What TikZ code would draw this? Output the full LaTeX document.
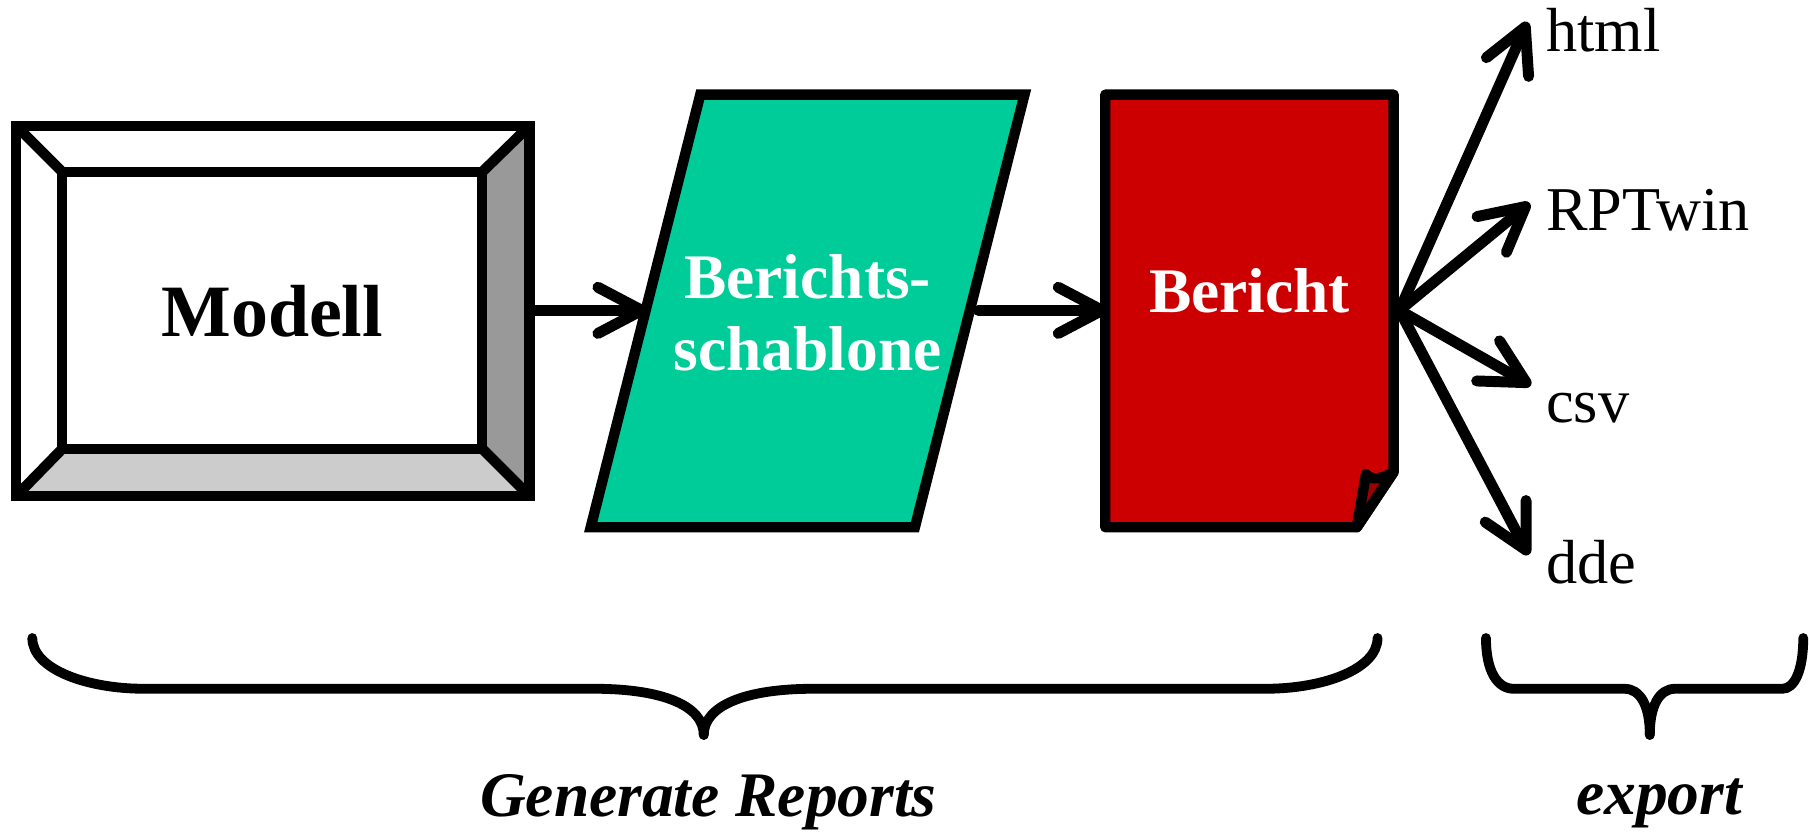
\documentclass[tikz,border=0pt]{standalone}
\usepackage{fontspec}
\setmainfont{Liberation Serif}
\usetikzlibrary{arrows.meta}
\definecolor{tmplgreen}{HTML}{00CC99}
\definecolor{reportred}{HTML}{CC0000}
\definecolor{folddark}{HTML}{990000}
\definecolor{bevdark}{HTML}{999999}
\definecolor{bevlight}{HTML}{CCCCCC}
\tikzset{
  outline/.style={line width=9pt, line join=miter},
  flow/.style={line width=9.5pt, line cap=round,
    -{Straight Barb[length=38pt,width=40pt,line cap=round,line join=round]}},
  brace/.style={line width=8.5pt, line cap=round},
  boxlabel/.style={font=\fontsize{55}{63}\selectfont\bfseries, inner sep=0pt, align=center},
  exportlabel/.style={font=\fontsize{54}{60}\selectfont, inner sep=0pt, anchor=base west},
  grouplabel/.style={font=\fontsize{55}{60}\selectfont\bfseries\itshape, inner sep=0pt, anchor=base}
}
\begin{document}
\begin{tikzpicture}[x=1pt,y=-1pt]
\useasboundingbox (0,0) rectangle (1568,723);

% Modell: bevelled frame
\fill[white] (14,109) -- (459,109) -- (418,149) -- (54,149) -- cycle;
\fill[bevdark] (459,109) -- (459,430) -- (418,389) -- (418,149) -- cycle;
\fill[bevlight] (14,430) -- (459,430) -- (418,389) -- (54,389) -- cycle;
\draw[outline] (14,109) rectangle (459,430);
\draw[outline] (54,149) rectangle (418,389);
\draw[outline] (14,109) -- (54,149) (459,109) -- (418,149)
               (14,430) -- (54,389) (459,430) -- (418,389);
\node[font=\fontsize{64}{70}\selectfont\bfseries, inner sep=0pt, anchor=base]
  (modell) at (236,292) {Modell};

% Report template: parallelogram
\draw[outline, fill=tmplgreen] (607,82) -- (888,82) -- (793,457) -- (512,457) -- cycle;
\node[boxlabel, text=white] (tmpl) at (700,271) {Berichts-\\schablone};

% Report: page with a curled corner
\draw[outline, line join=round, fill=reportred]
  (958,82) -- (1208,82) -- (1208,409) -- (1176,457) -- (958,457) -- cycle;
\draw[outline, line join=round, fill=folddark]
  (1176,457) -- (1184,411) .. controls (1189,417) and (1198,415) .. (1208,409) -- cycle;
\node[boxlabel, text=white, anchor=base] (bericht) at (1083,271) {Bericht};

% Flow between the stages
\coordinate (m-out) at (463,269);
\coordinate (t-in) at (561,269);
\coordinate (t-out) at (848,269);
\coordinate (b-in) at (960,269);
\coordinate (b-out) at (1213,269);
\draw[flow] (m-out) -- (t-in);
\draw[flow] (t-out) -- (b-in);

% Export formats
\node[exportlabel] (html) at (1340,45) {html};
\node[exportlabel] (rpt) at (1340,200) {RPTwin};
\node[exportlabel] (csv) at (1340,366) {csv};
\node[exportlabel] (dde) at (1340,506) {dde};
\coordinate (to-html) at (1324,19);
\coordinate (to-rpt) at (1326,176);
\coordinate (to-csv) at (1327,334);
\coordinate (to-dde) at (1325,481);
\draw[flow] (b-out) -- (to-html);
\draw[flow] (b-out) -- (to-rpt);
\draw[flow] (b-out) -- (to-csv);
\draw[flow] (b-out) -- (to-dde);

% Grouping braces
\coordinate (gen-tip) at (610,637);
\coordinate (exp-tip) at (1430,637);
\draw[brace] (28,553) .. controls (28,580) and (75,597) .. (125,597) -- (515,597)
  .. controls (575,597) and (610,612) .. (gen-tip);
\draw[brace] (1194,553) .. controls (1194,580) and (1147,597) .. (1097,597) -- (705,597)
  .. controls (645,597) and (610,612) .. (gen-tip);
\draw[brace] (1288,553) .. controls (1288,582) and (1298,597) .. (1312,597) -- (1408,597)
  .. controls (1422,597) and (1430,612) .. (exp-tip);
\draw[brace] (1563,553) .. controls (1563,582) and (1555,597) .. (1545,597) -- (1452,597)
  .. controls (1438,597) and (1430,612) .. (exp-tip);
\node[grouplabel] (gen) at (614,708) {Generate Reports};
\node[grouplabel] (exp) at (1438,706) {export};
\end{tikzpicture}
\end{document}
